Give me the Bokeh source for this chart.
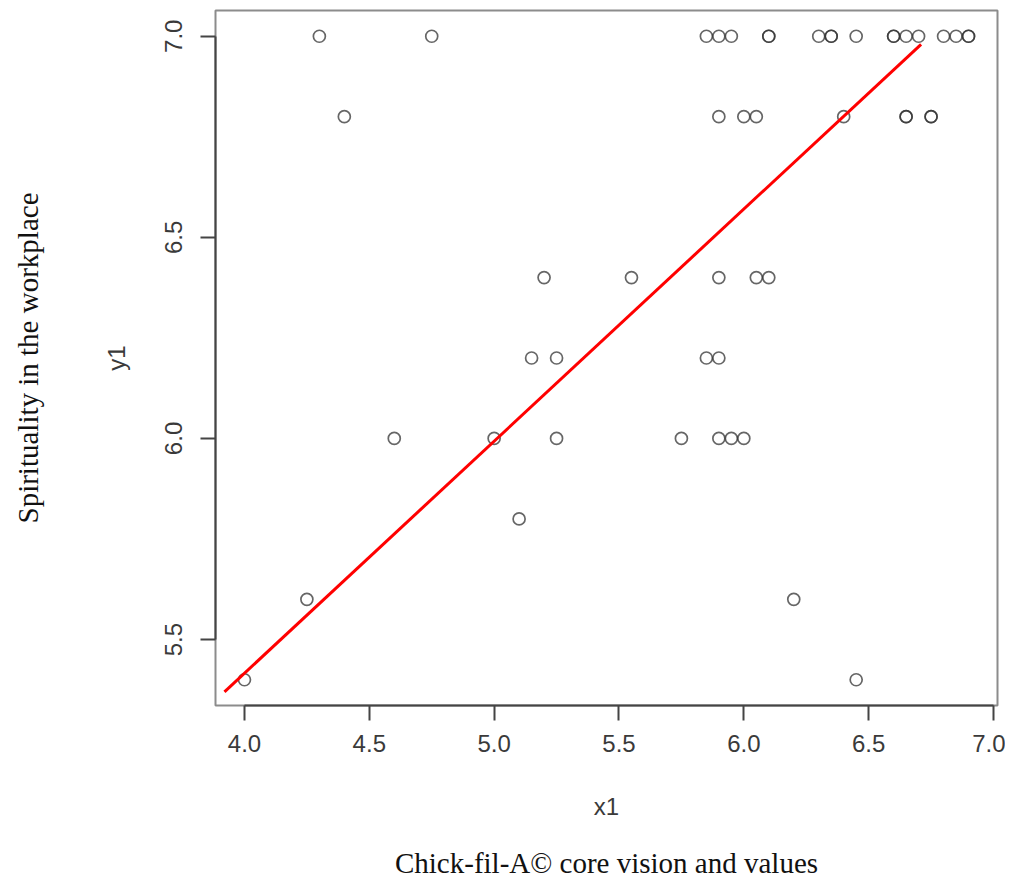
from bokeh.plotting import figure
from bokeh.models import Range1d, FixedTicker, LinearAxis
from bokeh.embed import file_html
from bokeh.resources import INLINE

# ---- data ----
x1 = [4.3, 4.75, 5.85, 5.9, 5.95, 6.1, 6.1, 6.3, 6.35, 6.35, 6.45, 6.6, 6.6, 6.65, 6.7, 6.8, 6.85, 6.9, 6.9,
      4.4, 5.9, 6.0, 6.05, 6.4, 6.65, 6.65, 6.75, 6.75,
      5.2, 5.55, 5.9, 6.05, 6.1,
      5.15, 5.25, 5.85, 5.9,
      4.6, 5.0, 5.25, 5.75, 5.9, 5.95, 6.0,
      5.1,
      4.25, 6.2,
      4.0, 6.45]
y1 = [7.0, 7.0, 7.0, 7.0, 7.0, 7.0, 7.0, 7.0, 7.0, 7.0, 7.0, 7.0, 7.0, 7.0, 7.0, 7.0, 7.0, 7.0, 7.0,
      6.8, 6.8, 6.8, 6.8, 6.8, 6.8, 6.8, 6.8, 6.8,
      6.4, 6.4, 6.4, 6.4, 6.4,
      6.2, 6.2, 6.2, 6.2,
      6.0, 6.0, 6.0, 6.0, 6.0, 6.0, 6.0,
      5.8,
      5.6, 5.6,
      5.4, 5.4]

fit_x = [3.92, 6.71]
fit_y = [5.37, 6.98]

x_ticks = [4.0, 4.5, 5.0, 5.5, 6.0, 6.5, 7.0]
x_tick_labels = ["4.0", "4.5", "5.0", "5.5", "6.0", "6.5", "7.0"]
y_ticks = [5.5, 6.0, 6.5, 7.0]
y_tick_labels = ["5.5", "6.0", "6.5", "7.0"]

x_label = "x1"
y_label = "y1"
outer_x_label = "Chick-fil-A\u00a9 core vision and values"
outer_y_label = "Spirituality in the workplace"

# R-style 4% range extension
xr = max(x1) - min(x1)
yr = max(y1) - min(y1)
x_range = Range1d(min(x1) - 0.04 * xr, max(x1) + 0.04 * xr)
y_range = Range1d(min(y1) - 0.04 * yr, max(y1) + 0.04 * yr)

p = figure(width=1005, height=882, x_range=x_range, y_range=y_range,
           output_backend="svg", toolbar_location=None,
           min_border_left=215, min_border_right=8, min_border_top=10, min_border_bottom=177)

p.background_fill_color = "white"
p.border_fill_color = "white"
p.xgrid.visible = False
p.ygrid.visible = False
p.outline_line_color = "#8c8c8c"
p.outline_line_width = 2

SANS = "Liberation Sans"
SERIF = "Liberation Serif"
TXT = "#3a3a3a"

def style_axis(ax, ticks, labels, bounds):
    ax.ticker = FixedTicker(ticks=ticks)
    ax.major_label_overrides = {t: l for t, l in zip(ticks, labels)}
    ax.bounds = bounds
    ax.axis_line_color = "#444444"
    ax.axis_line_width = 2
    ax.major_tick_line_color = "#444444"
    ax.major_tick_line_width = 2
    ax.major_tick_out = 15
    ax.major_tick_in = 0
    ax.minor_tick_out = 0
    ax.minor_tick_in = 0
    ax.major_label_text_font = SANS
    ax.major_label_text_font_size = "24px"
    ax.major_label_text_color = TXT
    ax.axis_label_text_font = SANS
    ax.axis_label_text_font_size = "24px"
    ax.axis_label_text_font_style = "normal"
    ax.axis_label_text_color = TXT

xa = p.xaxis[0]
style_axis(xa, x_ticks, x_tick_labels, (x_ticks[0], x_ticks[-1]))
xa.axis_label = x_label
xa.major_label_standoff = 14
xa.axis_label_standoff = 38

ya = p.yaxis[0]
style_axis(ya, y_ticks, y_tick_labels, (y_ticks[0], y_ticks[-1]))
ya.axis_label = y_label
ya.major_label_orientation = "parallel"
ya.major_label_standoff = 18
ya.axis_label_standoff = 33

def outer_axis(label, standoff):
    ax = LinearAxis(ticker=FixedTicker(ticks=[]), axis_label=label)
    ax.axis_line_color = None
    ax.major_tick_out = 0
    ax.major_tick_in = 0
    ax.minor_tick_out = 0
    ax.minor_tick_in = 0
    ax.major_label_standoff = 0
    ax.axis_label_standoff = standoff
    ax.axis_label_text_font = SERIF
    ax.axis_label_text_font_size = "29px"
    ax.axis_label_text_font_style = "normal"
    ax.axis_label_text_color = "#111111"
    return ax

p.add_layout(outer_axis(outer_x_label, 24), "below")
p.add_layout(outer_axis(outer_y_label, 56), "left")

p.scatter(x1, y1, marker="circle", size=12, fill_color=None,
          line_color="#333333", line_width=1.7, line_alpha=0.75)
p.line(fit_x, fit_y, line_color="#ff0000", line_width=3)

open("out.html", "w").write(file_html(p, INLINE))
